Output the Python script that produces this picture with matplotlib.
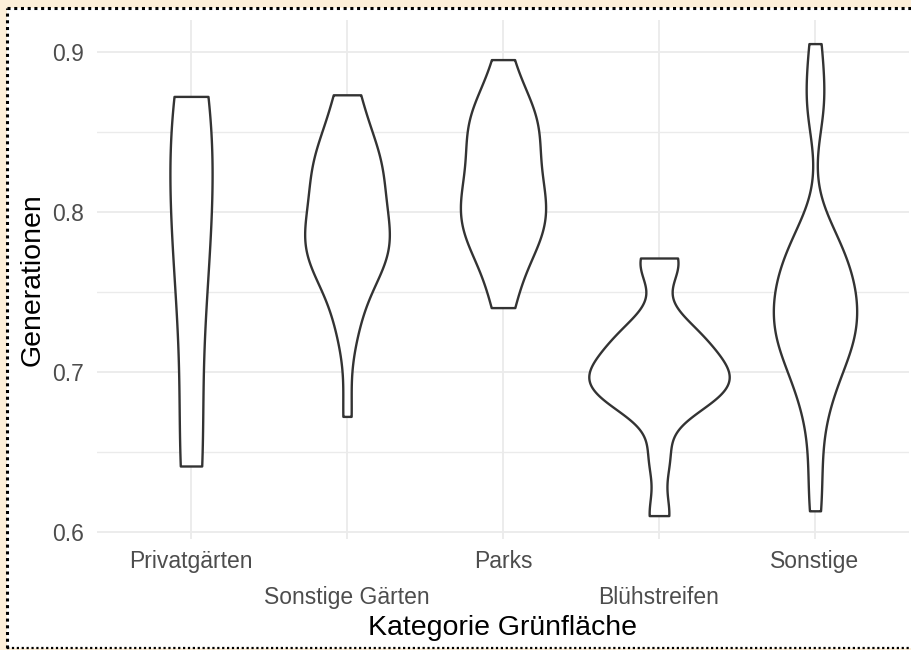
import numpy as np
import matplotlib
matplotlib.use("Agg")
import matplotlib.pyplot as plt
from matplotlib.lines import Line2D
from matplotlib.patches import Rectangle

plt.rcParams["font.family"] = ["Liberation Sans", "DejaVu Sans"]

# categories in plotting order
categories = ["Privatgärten", "Sonstige Gärten", "Parks", "Blühstreifen", "Sonstige"]

# per-category generation values (estimated from the violin shapes)
privatgaerten = [0.641, 0.641, 0.719, 0.773, 0.776, 0.818, 0.848, 0.860, 0.872]
sonstige_gaerten = [0.672, 0.726, 0.732, 0.759, 0.759, 0.768, 0.768, 0.777, 0.777,
                    0.780, 0.786, 0.786, 0.792, 0.798, 0.810, 0.810, 0.819, 0.825,
                    0.828, 0.831, 0.837, 0.843, 0.849, 0.873, 0.873]
parks = [0.740, 0.755, 0.776, 0.779, 0.785, 0.788, 0.797, 0.800, 0.806, 0.812,
         0.815, 0.824, 0.833, 0.842, 0.848, 0.857, 0.857, 0.863, 0.872, 0.895]
bluehstreifen = [0.610, 0.646, 0.679, 0.682, 0.682, 0.694, 0.694, 0.697,
                 0.700, 0.703, 0.715, 0.715, 0.724, 0.730, 0.766, 0.771]
sonstige = [0.613, 0.643, 0.673, 0.685, 0.700, 0.703, 0.709, 0.721, 0.721,
            0.724, 0.727, 0.736, 0.736, 0.745, 0.748, 0.757, 0.757, 0.760,
            0.766, 0.781, 0.781, 0.787, 0.862, 0.877, 0.905]

groups = [privatgaerten, sonstige_gaerten, parks, bluehstreifen, sonstige]

y_ticks = [0.6, 0.7, 0.8, 0.9]
y_minor = [0.65, 0.75, 0.85]


def bw_nrd0(x):
    # same rule of thumb as R's bw.nrd0
    n = len(x)
    sd = np.std(x, ddof=1)
    q25, q75 = np.percentile(x, [25, 75])
    lo = min(sd, (q75 - q25) / 1.34)
    if lo <= 0:
        lo = sd
    return 0.9 * lo * n ** -0.2


def density(x, n=512):
    x = np.asarray(x)
    h = bw_nrd0(x)
    grid = np.linspace(x.min(), x.max(), n)
    d = np.exp(-0.5 * ((grid[:, None] - x[None, :]) / h) ** 2).sum(1)
    d /= len(x) * h * np.sqrt(2 * np.pi)
    return grid, d


W, H = 912, 650
fig = plt.figure(figsize=(W / 100, H / 100), dpi=100, facecolor="#fdefd9")

# white page with the dotted frame of the screenshot
fig.patches.append(Rectangle((7 / W, 2 / H), 1 - 7 / W, 640.5 / H,
                             transform=fig.transFigure, facecolor="white",
                             edgecolor="none", zorder=-5))
fig.lines.append(Line2D([7 / W, 1], [642.5 / H, 642.5 / H], transform=fig.transFigure,
                        color="black", lw=2.2, linestyle=(0, (1, 1.2)), zorder=5))
fig.lines.append(Line2D([7 / W, 7 / W], [2 / H, 642.5 / H], transform=fig.transFigure,
                        color="black", lw=2.2, linestyle=(0, (1, 1.2)), zorder=5))
fig.lines.append(Line2D([7 / W, 1], [2 / H, 2 / H], transform=fig.transFigure,
                        color="black", lw=1.6, linestyle=(0, (1, 1.2)), zorder=5))

ax = fig.add_axes([97.4 / W, (H - 539.2) / H, 811.2 / W, 519.2 / H])
ax.set_facecolor("white")
for s in ax.spines.values():
    s.set_visible(False)

dens = [density(g) for g in groups]
dmax = max(d.max() for _, d in dens)
for i, (grid, d) in enumerate(dens):
    w = d / dmax * 0.45
    ax.fill_betweenx(grid, i + 1 - w, i + 1 + w, facecolor="white",
                     edgecolor="#333333", linewidth=1.7, zorder=3)

lo = min(min(g) for g in groups)
hi = max(max(g) for g in groups)
pad = (hi - lo) * 0.05
ax.set_ylim(lo - pad, hi + pad)
ax.set_xlim(0.4, len(categories) + 0.6)

ax.set_yticks(y_ticks, [f"{t:.1f}" for t in y_ticks])
ax.set_yticks(y_minor, minor=True)
ax.set_xticks([1, 3, 5], [categories[0], categories[2], categories[4]])
ax.set_xticks([2, 4], [categories[1], categories[3]], minor=True)

ax.tick_params(axis="y", which="both", length=0, pad=9.5, labelsize=16.5, labelcolor="#4d4d4d")
ax.tick_params(axis="x", which="major", length=0, pad=8, labelsize=16.5, labelcolor="#4d4d4d")
ax.tick_params(axis="x", which="minor", length=0, pad=33.5, labelsize=16.5, labelcolor="#4d4d4d")

ax.xaxis.grid(True, which="both", color="#ebebeb", lw=1.3)
ax.yaxis.grid(True, which="major", color="#ebebeb", lw=1.3)
ax.yaxis.grid(True, which="minor", color="#ebebeb", lw=1.0)
ax.set_axisbelow(True)

ax.set_xlabel("Kategorie Grünfläche", fontsize=20.5, labelpad=4.5)
ax.set_ylabel("Generationen", fontsize=20.5, labelpad=5)

fig.savefig("out.png", dpi=100, facecolor=fig.get_facecolor())
